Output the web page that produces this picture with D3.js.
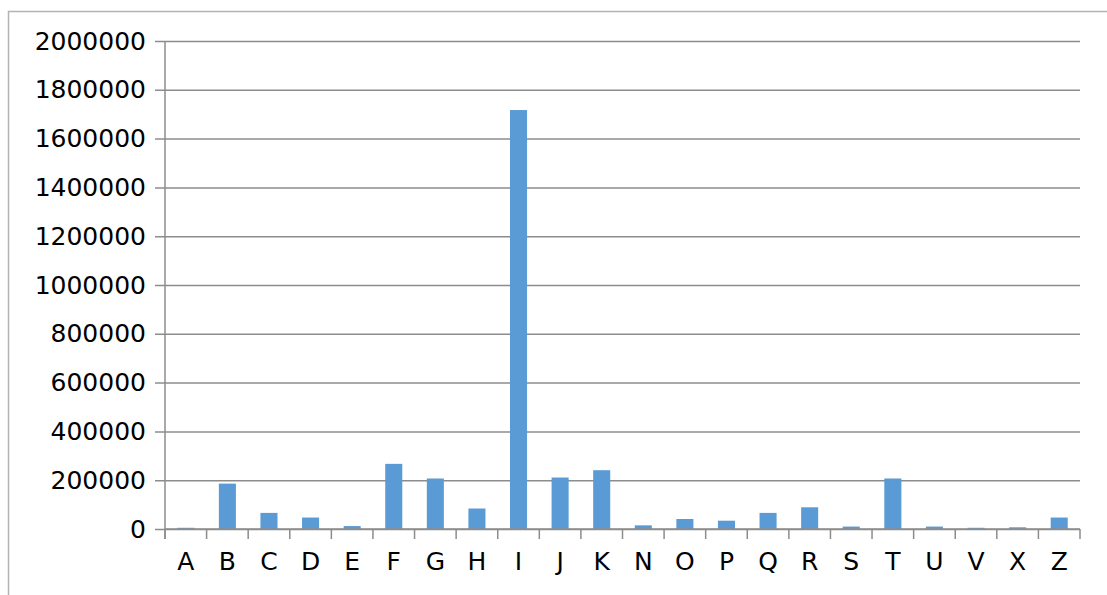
<!DOCTYPE html>
<html>
<head>
<meta charset="utf-8">
<script src="https://cdn.jsdelivr.net/npm/d3@7"></script>
<style>
  body { margin: 0; background: #fff; }
  svg { display: block; font-family: "DejaVu Sans", sans-serif; }
</style>
</head>
<body>
<svg id="chart" width="1107" height="595"></svg>
<script>
var categories = ['A', 'B', 'C', 'D', 'E', 'F', 'G', 'H', 'I', 'J', 'K', 'N', 'O', 'P', 'Q', 'R', 'S', 'T', 'U', 'V', 'X', 'Z']
var values = [5000, 186000, 66000, 47000, 12000, 267000, 207000, 84000, 1717000, 211000, 241000,
              15000, 41000, 34000, 66000, 89000, 10000, 207000, 10000, 5000, 7000, 47000]
var yTicks = [0, 200000, 400000, 600000, 800000, 1000000, 1200000, 1400000, 1600000, 1800000, 2000000]

var svg = d3.select('#chart')
var gridColor = '#8c8c8c'

// outer chart frame
svg.append('rect')
   .attr('x', 8.5).attr('y', 11.5)
   .attr('width', 1120).attr('height', 600)
   .attr('fill', 'none')
   .attr('stroke', '#b3b3b3')
   .attr('stroke-width', 1.5)

var plotLeft = 165, plotRight = 1080, plotTop = 41, plotBottom = 529

var x = d3.scaleBand().domain(categories).range([plotLeft, plotRight]).paddingInner(0.59).paddingOuter(0.295)
var y = d3.scaleLinear().domain([0, 2000000]).range([plotBottom, plotTop])

var step = (plotRight - plotLeft) / categories.length

// gridlines + y ticks
var yAxis = d3.axisLeft(y).tickValues(yTicks).tickFormat(d3.format('d'))
              .tickSize(-(plotRight - plotLeft)).tickPadding(19).tickSizeOuter(0)
var gy = svg.append('g').attr('transform', 'translate(' + plotLeft + ',0)').call(yAxis)
gy.select('.domain').remove()
gy.selectAll('.tick line')
  .attr('x1', -10)
  .attr('stroke', gridColor)
  .attr('stroke-width', 1.5)
gy.selectAll('.tick text')
  .attr('font-size', 25)
  .attr('fill', '#000')
  .attr('font-family', '"DejaVu Sans", sans-serif')

// bars
svg.append('g').selectAll('rect')
   .data(values)
   .enter().append('rect')
   .attr('x', function (d, i) { return x(categories[i]) })
   .attr('y', function (d) { return y(d) })
   .attr('width', x.bandwidth())
   .attr('height', function (d) { return plotBottom - y(d) })
   .attr('fill', '#5b9bd5')

// y axis line
svg.append('line')
   .attr('x1', plotLeft).attr('x2', plotLeft)
   .attr('y1', plotTop).attr('y2', plotBottom + 10)
   .attr('stroke', gridColor).attr('stroke-width', 1.5)

// x axis line, category boundary ticks and labels
svg.append('line')
   .attr('x1', plotLeft).attr('x2', plotRight)
   .attr('y1', plotBottom).attr('y2', plotBottom)
   .attr('stroke', gridColor).attr('stroke-width', 1.5)

var bounds = d3.range(categories.length + 1)
svg.append('g').selectAll('line')
   .data(bounds)
   .enter().append('line')
   .attr('x1', function (i) { return plotLeft + i * step })
   .attr('x2', function (i) { return plotLeft + i * step })
   .attr('y1', plotBottom).attr('y2', plotBottom + 10)
   .attr('stroke', gridColor).attr('stroke-width', 1.5)

svg.append('g').selectAll('text')
   .data(categories)
   .enter().append('text')
   .attr('x', function (d) { return x(d) + x.bandwidth() / 2 })
   .attr('y', 570)
   .attr('text-anchor', 'middle')
   .attr('font-size', 25)
   .attr('fill', '#000')
   .text(function (d) { return d })
</script>
</body>
</html>
